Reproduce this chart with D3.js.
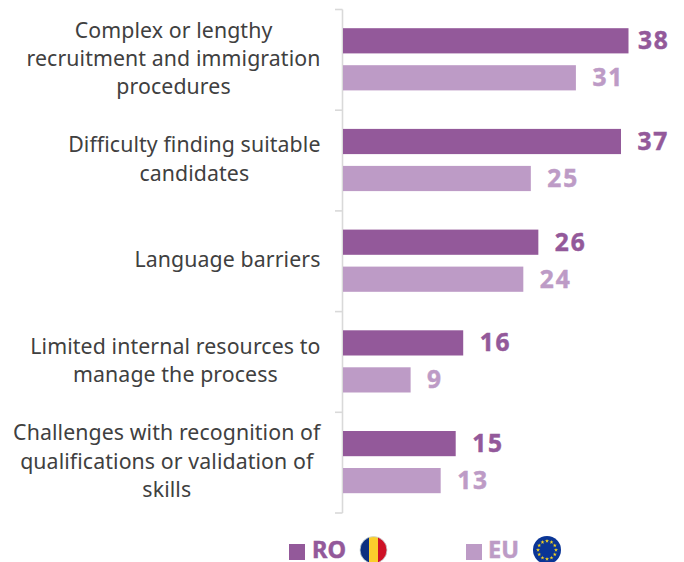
<!DOCTYPE html>
<html><head><meta charset="utf-8">
<script src="https://cdn.jsdelivr.net/npm/d3@7/dist/d3.min.js"></script>
<style>html,body{margin:0;padding:0;background:#fff}svg{display:block}text{font-family:"Noto Sans",sans-serif}</style>
</head><body><svg id="c" width="684" height="562"></svg>
<script>
const categories = [
  ["Complex or lengthy","recruitment and immigration","procedures"],
  ["Difficulty finding suitable","candidates"],
  ["Language barriers"],
  ["Limited internal resources to","manage the process"],
  ["Challenges with recognition of","qualifications or validation of","skills"]
];
const seriesNames = ["RO","EU"];
const roValues = [38,37,26,16,15];
const euValues = [31,25,24,9,13];
const colors = ["#93599a","#bd9bc6"];

const svg = d3.select("#c");
const y = d3.scaleBand().domain(d3.range(categories.length)).range([9.5,513]);
const x = d3.scaleLinear().domain([0,38]).range([343,628.5]);
const barH = 25.2, offs = [18.7,55.7];

const axis = svg.append("g");
axis.append("line").attr("x1",342.5).attr("x2",342.5).attr("y1",y.range()[0]).attr("y2",y.range()[1]).attr("stroke","#d9d9d9").attr("stroke-width",1.6);
[...categories.keys(), categories.length].forEach(i=>{
  const t = i<categories.length ? y(i) : y.range()[1];
  axis.append("line").attr("x1",335).attr("x2",342.5).attr("y1",t).attr("y2",t).attr("stroke","#d9d9d9").attr("stroke-width",1.6);
});

[roValues,euValues].forEach((vals,s)=>{
  svg.append("g").selectAll("rect").data(vals).join("rect")
    .attr("x",x(0)).attr("y",(d,i)=>y(i)+offs[s]).attr("height",barH)
    .attr("width",d=>x(d)-x(0)).attr("fill",colors[s]);
  svg.append("g").selectAll("text").data(vals).join("text")
    .attr("x",d=>Math.min(x(d)+16.5,638)).attr("y",(d,i)=>y(i)+offs[s]+barH/2+8.5)
    .attr("font-size",24.5).attr("font-weight",700).attr("letter-spacing",1.8)
    .attr("stroke",colors[s]).attr("stroke-width",0.5)
    .attr("fill",colors[s]).text(d=>d);
});

const lh = 28.3;
categories.forEach((lines,i)=>{
  const g = svg.append("g");
  const cy = y(i)+y.bandwidth()/2;
  const ts = lines.map((l,j)=>g.append("text").attr("y",cy+(j-(lines.length-1)/2)*lh+6)
    .attr("font-size",21.3).attr("letter-spacing",0.1).attr("fill","#404040").attr("text-anchor","middle").text(l));
  const w = d3.max(ts,t=>t.node().getComputedTextLength());
  ts.forEach(t=>t.attr("x",320.5-w/2));
});

// legend
const defs = svg.append("defs");
[["clipRO",373.5],["clipEU",547]].forEach(([id,cx])=>defs.append("clipPath").attr("id",id).append("circle").attr("cx",cx).attr("cy",550).attr("r",13.5));
const lg = svg.append("g");
[[289,312],[466,488]].forEach(([sx,tx],i)=>{
  lg.append("rect").attr("x",sx).attr("y",544).attr("width",16).attr("height",16).attr("fill",colors[i]);
  lg.append("text").attr("x",tx).attr("y",558).attr("font-size",23.5).attr("font-weight",700)
    .attr("stroke",colors[i]).attr("stroke-width",0.5).attr("fill",colors[i]).text(seriesNames[i]);
});
const ro = lg.append("g").attr("clip-path","url(#clipRO)");
[["#0b2f80",360],["#fbcf2c",369],["#ce1126",378]].forEach(([c,xx],i)=>ro.append("rect").attr("x",xx).attr("y",536).attr("width",i==1?9:9.5).attr("height",28).attr("fill",c));
lg.append("circle").attr("cx",373.5).attr("cy",550).attr("r",13.5).attr("fill","none").attr("stroke","#c5d3d6").attr("stroke-width",0.8);
lg.append("circle").attr("cx",547).attr("cy",550).attr("r",14).attr("fill","#0a3596");
const star = d3.symbol().type(d3.symbolStar).size(5);
d3.range(12).forEach(k=>{
  const a = k/12*2*Math.PI;
  lg.append("path").attr("d",star()).attr("fill","#f7d51d")
    .attr("transform",`translate(${547+9*Math.cos(a)},${550+9*Math.sin(a)})`);
});
</script></body></html>
